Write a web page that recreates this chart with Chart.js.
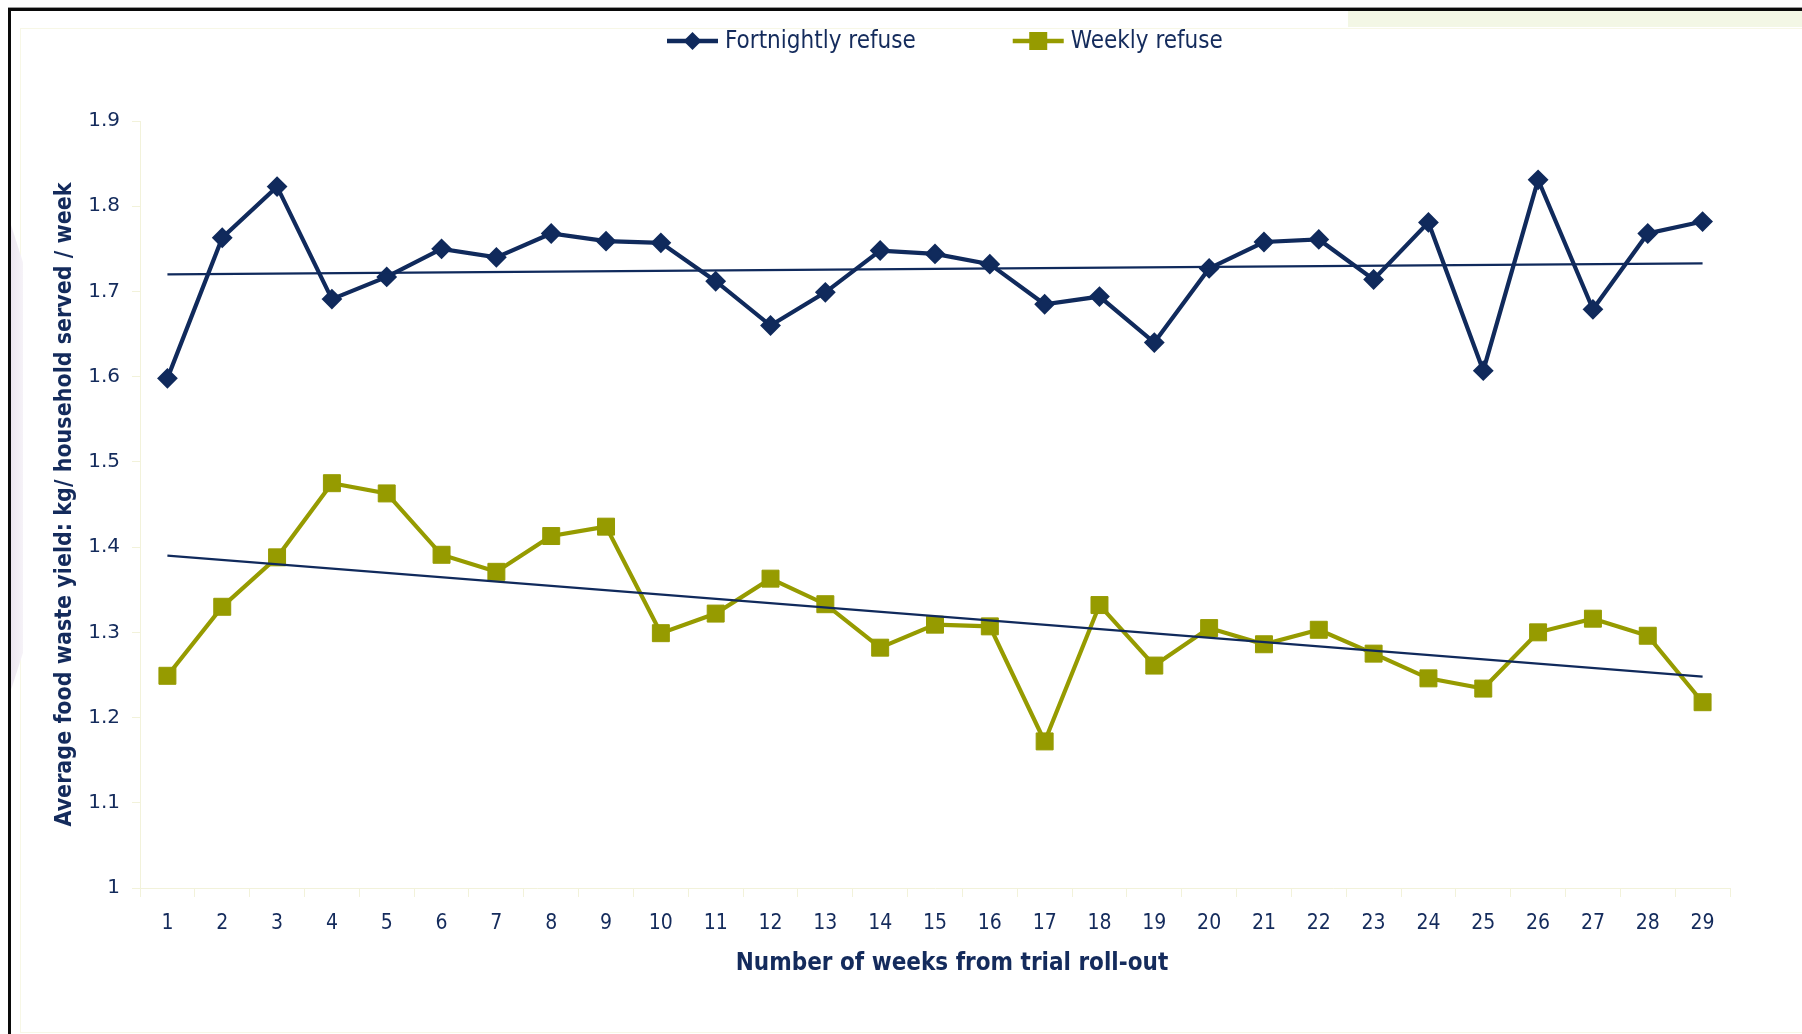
<!DOCTYPE html>
<html>
<head>
<meta charset="utf-8">
<script src="https://cdn.jsdelivr.net/npm/chart.js@4"></script>
<style>
  html, body { margin:0; padding:0; background:#ffffff; overflow:hidden; width:1802px; height:1034px; }
  #frame { position:absolute; left:8px; top:8px; width:1810px; height:1040px;
           border-left:3px solid #0a0a0a; border-top:3px solid #0a0a0a; box-shadow:0 -1px 0 #9a9a9a; }
  #inner { position:absolute; left:20px; top:28px; width:1800px; height:1003px; border:1px solid #f7f7e6; }
  #tint { position:absolute; left:1348px; top:11px; width:460px; height:16px; background:#f3f7e5; }
  #shade { position:absolute; left:11px; top:225px; width:12px; height:465px;
           background:linear-gradient(90deg,#ece6f0,#f6f3f8); clip-path:polygon(0 0,100% 8%,100% 92%,0 100%); }
  canvas { position:absolute; left:0; top:0; }
</style>
</head>
<body>
<div id="frame"></div>
<div id="tint"></div>
<div id="inner"></div>
<div id="shade"></div>
<canvas id="c" width="1802" height="1034"></canvas>
<script>
// ---- data ----
const weeks = ['1','2','3','4','5','6','7','8','9','10','11','12','13','14','15','16','17','18','19','20','21','22','23','24','25','26','27','28','29'];
const fortnightly = [1.598,1.763,1.823,1.691,1.717,1.750,1.740,1.768,1.759,1.757,1.712,1.660,1.699,1.748,1.744,1.732,1.685,1.694,1.640,1.727,1.758,1.761,1.714,1.781,1.607,1.831,1.679,1.768,1.782];
const weekly      = [1.249,1.330,1.388,1.475,1.463,1.391,1.371,1.413,1.424,1.299,1.322,1.363,1.333,1.282,1.309,1.307,1.172,1.332,1.261,1.305,1.286,1.303,1.275,1.246,1.234,1.300,1.316,1.296,1.218];
// linear trend lines: values read at week 1 and week 29
const fortnightlyTrend = [1.720, 1.733];
const weeklyTrend      = [1.390, 1.248];
const yMin = 1, yMax = 1.9, yStep = 0.1;
const seriesNames = ['Fortnightly refuse', 'Weekly refuse'];
const xTitle = 'Number of weeks from trial roll-out';
const yTitle = 'Average food waste yield: kg/ household served / week';

// ---- styles ----
const NAVY = '#102a5c';
const OLIVE = '#969b00';
const TEXT = '#142b5c';
const FAINT = '#f2f2da';
const COND = "'DejaVu Sans Condensed', 'Liberation Sans Narrow', 'DejaVu Sans', sans-serif";

function endpoints(pair) {
  return weeks.map((w, i) => i === 0 ? pair[0] : (i === weeks.length - 1 ? pair[1] : null));
}

const legendPlugin = {
  id: 'customLegend',
  afterDraw(chart, args, opts) {
    const ctx = chart.ctx;
    ctx.save();
    ctx.font = opts.font;
    ctx.textBaseline = 'middle';
    ctx.textAlign = 'left';
    let x = opts.startX;
    const y = opts.y;
    chart.data.datasets.forEach(ds => {
      if (!ds.inLegend) return;
      ctx.strokeStyle = ds.borderColor;
      ctx.lineWidth = 4.5;
      ctx.beginPath();
      ctx.moveTo(x, y); ctx.lineTo(x + opts.lineLen, y);
      ctx.stroke();
      ctx.fillStyle = ds.borderColor;
      const cx = x + opts.lineLen / 2;
      if (ds.pointStyle === 'rectRot') {
        ctx.beginPath();
        ctx.moveTo(cx, y - 9); ctx.lineTo(cx + 9, y); ctx.lineTo(cx, y + 9); ctx.lineTo(cx - 9, y);
        ctx.closePath(); ctx.fill();
      } else {
        ctx.fillRect(cx - 9, y - 9, 18, 18);
      }
      x += opts.lineLen + opts.textGap;
      ctx.fillStyle = TEXT;
      ctx.fillText(ds.label, x, y + 1);
      x += ctx.measureText(ds.label).width + opts.itemGap;
    });
    // x-axis title, centred slightly right of the plot centre as in the original
    const xs = chart.scales.x;
    ctx.font = opts.xTitleFont;
    ctx.fillStyle = TEXT;
    ctx.textAlign = 'center';
    ctx.textBaseline = 'middle';
    ctx.fillText(xTitle, (xs.left + xs.right) / 2 + opts.xTitleShift, xs.top + opts.xTitleOffset);
    ctx.restore();
  }
};

new Chart(document.getElementById('c'), {
  type: 'line',
  data: {
    labels: weeks,
    datasets: [
      { label: 'trend1', data: endpoints(fortnightlyTrend), spanGaps: true, borderColor: NAVY, borderWidth: 2.2,
        pointRadius: 0, order: 0, inLegend: false },
      { label: 'trend2', data: endpoints(weeklyTrend), spanGaps: true, borderColor: NAVY, borderWidth: 2.2,
        pointRadius: 0, order: 0, inLegend: false },
      { label: seriesNames[0], data: fortnightly, borderColor: NAVY, backgroundColor: NAVY, borderWidth: 4.2,
        pointStyle: 'rectRot', pointRadius: 9, pointBorderWidth: 2, pointBackgroundColor: NAVY, pointBorderColor: NAVY,
        tension: 0, order: 1, inLegend: true },
      { label: seriesNames[1], data: weekly, borderColor: OLIVE, backgroundColor: OLIVE, borderWidth: 4.2,
        pointStyle: 'rect', pointRadius: 12, pointBorderWidth: 1, pointBackgroundColor: OLIVE, pointBorderColor: OLIVE,
        tension: 0, order: 1, inLegend: true }
    ]
  },
  options: {
    responsive: false,
    animation: false,
    devicePixelRatio: 1,
    layout: { padding: { left: 48, right: 72, top: 121, bottom: 46 } },
    plugins: {
      legend: { display: false },
      tooltip: { enabled: false },
      customLegend: { font: "24px " + COND, startX: 667, y: 41, lineLen: 51, textGap: 7, itemGap: 97,
                      xTitleFont: "bold 24px " + COND, xTitleShift: 17, xTitleOffset: 76 }
    },
    scales: {
      x: {
        offset: true,
        grid: { display: true, drawOnChartArea: false, drawTicks: true, tickLength: 9, color: FAINT, offset: true },
        border: { display: true, color: FAINT, width: 1 },
        ticks: { color: TEXT, font: { family: COND, size: 21 }, padding: 14, maxRotation: 0, autoSkip: false },
        title: { display: false },
        afterFit(s) { s.height = 100; }
      },
      y: {
        min: yMin, max: yMax,
        grid: { display: true, drawOnChartArea: false, drawTicks: true, tickLength: 8, color: FAINT },
        border: { display: true, color: FAINT, width: 1 },
        ticks: { stepSize: yStep, color: TEXT, font: { family: "'DejaVu Sans', Verdana, sans-serif", size: 20 }, padding: 12,
                 callback: v => String(Number(v.toFixed(1))) },
        title: { display: true, text: yTitle, color: TEXT, font: { family: COND, size: 23, weight: 'bold' },
                 padding: { top: 3, bottom: 0 } },
        afterFit(s) { s.width = 92; }
      }
    }
  },
  plugins: [legendPlugin]
});
</script>
</body>
</html>
